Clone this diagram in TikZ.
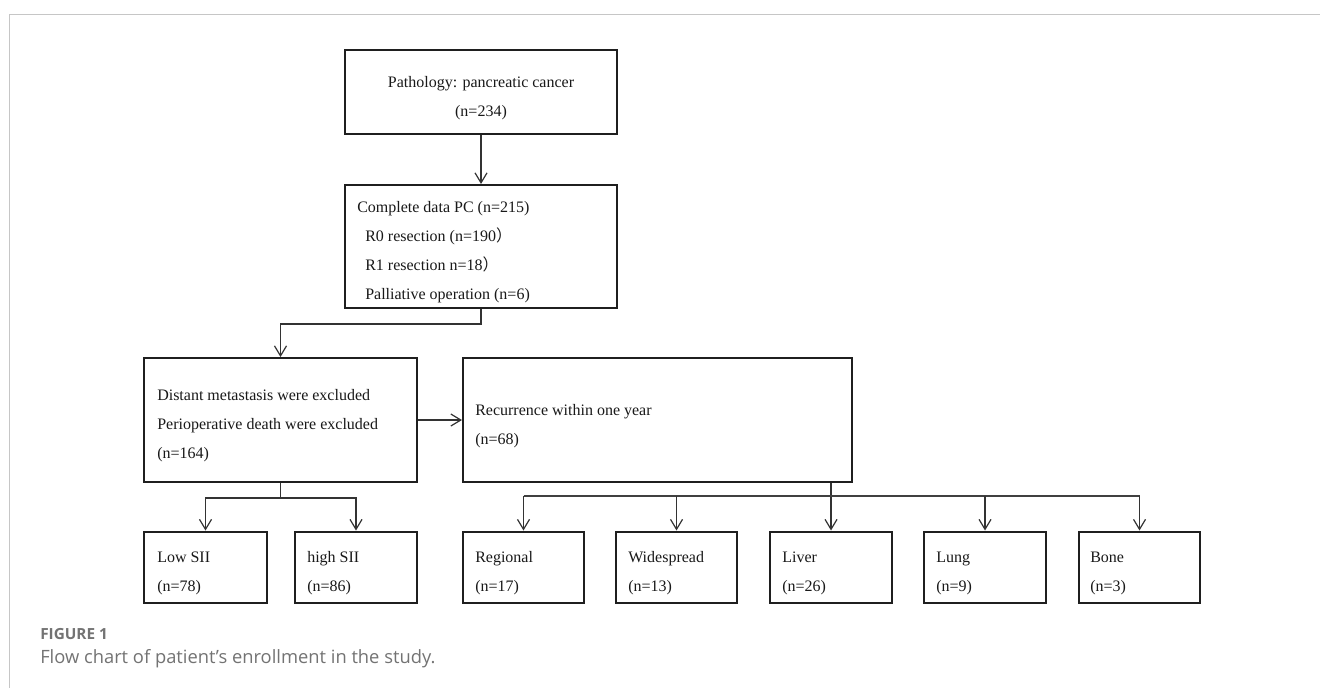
\documentclass[tikz,border=0pt]{standalone}
\usepackage{fontspec}
\setmainfont{Liberation Serif}
\newfontfamily\capfont{Open Sans}
\newfontfamily\cjk{Noto Sans CJK SC}
\usetikzlibrary{arrows.meta,calc}
\begin{document}
\begin{tikzpicture}[x=0.75pt,y=-0.75pt,
  box/.style={draw=black!88, line width=1.5pt, inner sep=0pt},
  txt/.style={inner sep=0pt, anchor=base west, font=\fontsize{12}{14}\selectfont, text=black!90},
  ctxt/.style={inner sep=0pt, anchor=base, font=\fontsize{12}{14}\selectfont, text=black!90},
  arr/.style={draw=black!80, line width=0.9pt, -{Straight Barb[length=7.5pt,width=9pt,line width=0.9pt]}},
  ln/.style={draw=black!75, line width=0.9pt}
]
\useasboundingbox (0,0) rectangle (1320,687);
\fill[white] (0,0) rectangle (1320,687);
% frame
\draw[gray!45, line width=1.1pt] (9.5,690) -- (9.5,14.5) -- (1325,14.5);

% boxes
\node[box, minimum width=204pt, minimum height=63pt] (b1) at (481,92) {};
\node[box, minimum width=204pt, minimum height=92.25pt] (b2) at (481,246.5) {};
\node[box, minimum width=204.75pt, minimum height=93pt] (b3) at (280.5,420) {};
\node[box, minimum width=291.75pt, minimum height=93pt] (b4) at (657.5,420) {};
\node[box, minimum width=92.25pt, minimum height=53.25pt] (low) at (205.5,567) {};
\node[box, minimum width=91.5pt, minimum height=53.25pt] (high) at (356,567) {};
\node[box, minimum width=90.75pt, minimum height=53.25pt] (reg) at (523.5,567) {};
\node[box, minimum width=90.75pt, minimum height=53.25pt] (wide) at (676.5,567) {};
\node[box, minimum width=91.5pt, minimum height=53.25pt] (liver) at (831,567) {};
\node[box, minimum width=91.5pt, minimum height=53.25pt] (lung) at (985,567) {};
\node[box, minimum width=90.75pt, minimum height=53.25pt] (bone) at (1139.5,567) {};

% texts
\node[ctxt] (t1a) at (481,87) {Pathology: pancreatic cancer};
\node[ctxt] (t1b) at (481,116) {(n=234)};

\node[txt] (t2a) at (357,212) {Complete data PC (n=215)};
\node[txt] (t2b) at (365,241) {R0 resection (n=190{\cjk ）}};
\node[txt] (t2c) at (365,270) {R1 resection n=18{\cjk ）}};
\node[txt] (t2d) at (365,299) {Palliative operation (n=6)};

\node[txt] (t3a) at (157,400) {Distant metastasis were excluded};
\node[txt] (t3b) at (157,429) {Perioperative death were excluded};
\node[txt] (t3c) at (157,458) {(n=164)};

\node[txt] (t4a) at (475,415) {Recurrence within one year};
\node[txt] (t4b) at (475,444) {(n=68)};

\node[txt] (tl1) at (157,562) {Low SII};
\node[txt] (tl2) at (157,591) {(n=78)};
\node[txt] (th1) at (307,562) {high SII};
\node[txt] (th2) at (307,591) {(n=86)};
\node[txt] (tr1) at (475,562) {Regional};
\node[txt] (tr2) at (475,591) {(n=17)};
\node[txt] (tw1) at (628,562) {Widespread};
\node[txt] (tw2) at (628,591) {(n=13)};
\node[txt] (tv1) at (782,562) {Liver};
\node[txt] (tv2) at (782,591) {(n=26)};
\node[txt] (tg1) at (936,562) {Lung};
\node[txt] (tg2) at (936,591) {(n=9)};
\node[txt] (tb1) at (1090,562) {Bone};
\node[txt] (tb2) at (1090,591) {(n=3)};

% connectors
\draw[arr] (b1.south) -- (b2.north);
\draw[arr] (b2.south) -- ++(0,15) -| (b3.north);
\draw[arr] (b3.east) -- (b4.west);
\draw[arr] (b3.south) -- ++(0,15) -| (low.north);
\draw[arr] (b3.south) -- ++(0,15) -| (high.north);

\coordinate (bus) at (831,496);
\draw[arr] (b4.south -| liver.north) -- (liver.north);
\draw[ln] (reg.north |- bus) -- (bone.north |- bus);
\draw[arr] (reg.north |- bus) -- (reg.north);
\draw[arr] (wide.north |- bus) -- (wide.north);
\draw[arr] (lung.north |- bus) -- (lung.north);
\draw[arr] (bone.north |- bus) -- (bone.north);

% caption
\node[inner sep=0pt, anchor=base west, font=\capfont\fontsize{11.5}{13}\selectfont\bfseries, text=black!55] (fig) at (40,639) {FIGURE 1};
\node[inner sep=0pt, anchor=base west, font=\capfont\fontsize{13.75}{16}\selectfont, text=black!55] (cap) at (40,663) {Flow chart of patient’s enrollment in the study.};
\end{tikzpicture}
\end{document}
